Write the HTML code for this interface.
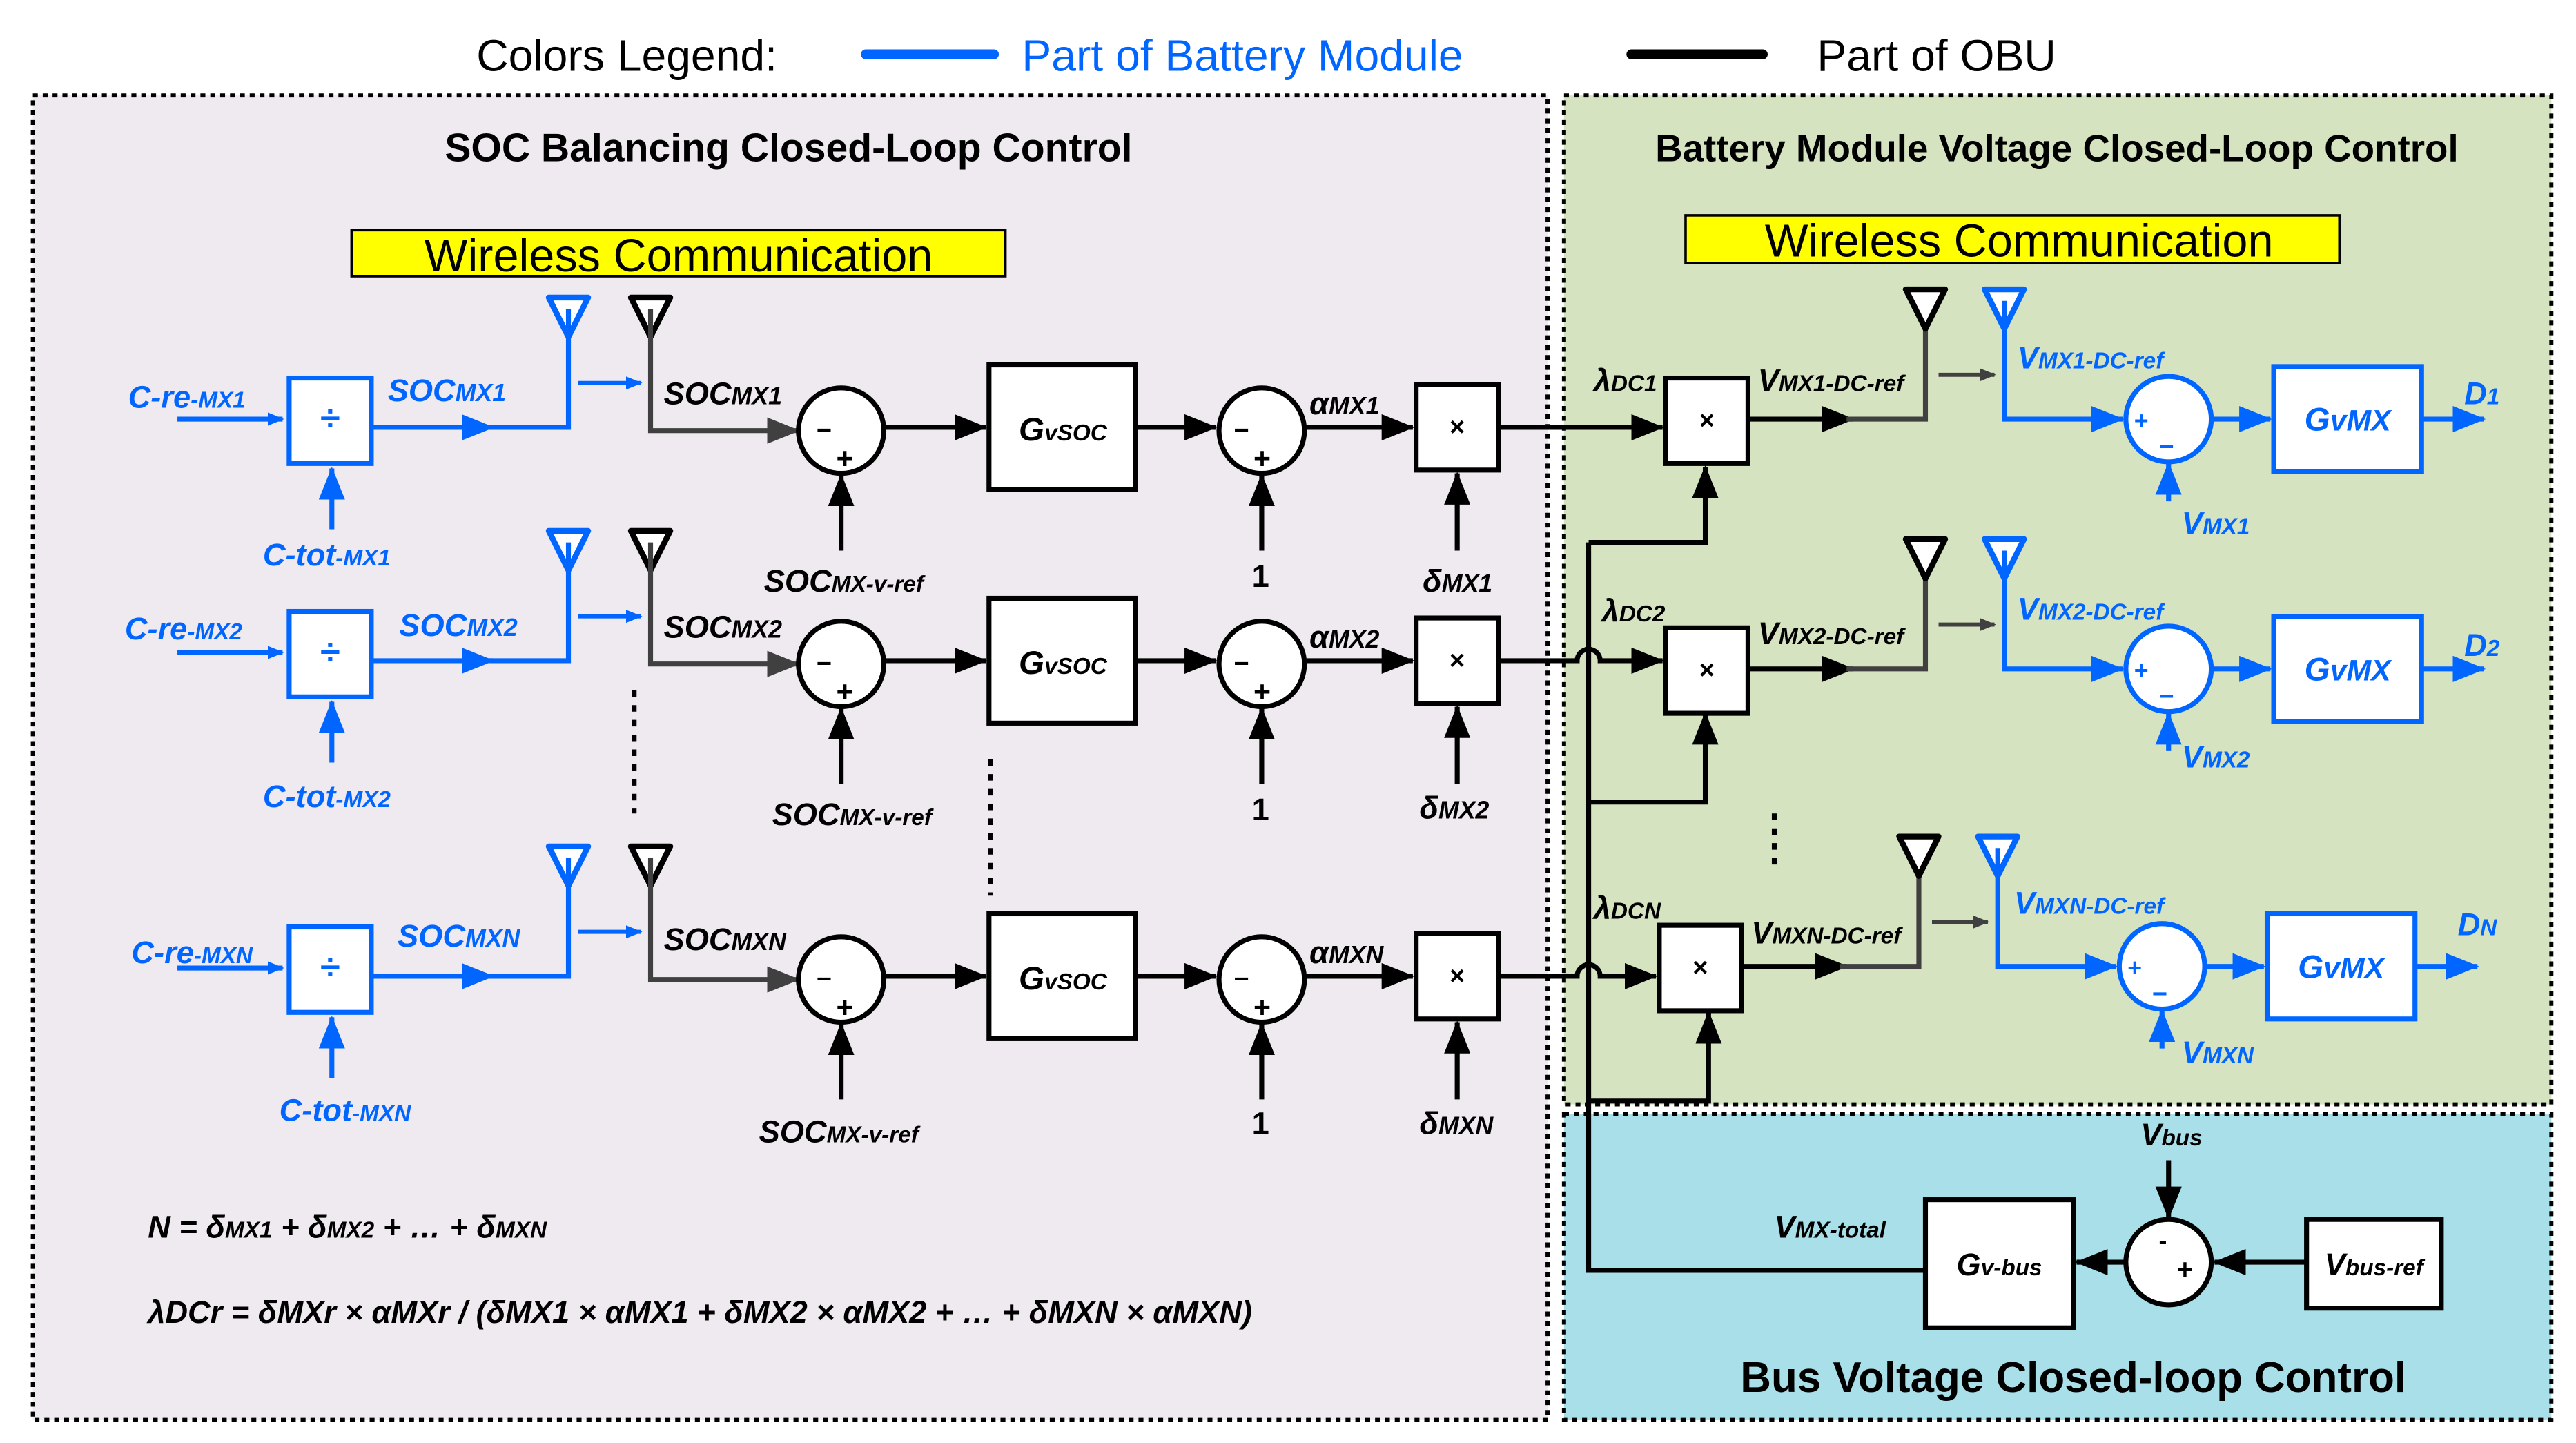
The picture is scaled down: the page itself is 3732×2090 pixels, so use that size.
<!DOCTYPE html>
<html><head><meta charset="utf-8"><style>
html,body{margin:0;padding:0;background:#fff}
svg{display:block}
text{font-family:"Liberation Sans",sans-serif;font-weight:bold}
.i{font-style:italic}
.b{fill:#0066ff}
</style></head><body>
<svg width="3732" height="2090" viewBox="0 0 1568 878" xmlns="http://www.w3.org/2000/svg">
<defs>
<marker id="ab" markerWidth="10" markerHeight="8" refX="9" refY="4" orient="auto" markerUnits="userSpaceOnUse" viewBox="0 0 10 8"><path d="M0,0L10,4L0,8z" fill="#0066ff"/></marker>
<marker id="ag" markerWidth="10" markerHeight="8" refX="9" refY="4" orient="auto" markerUnits="userSpaceOnUse" viewBox="0 0 10 8"><path d="M0,0L10,4L0,8z" fill="#404040"/></marker>
<marker id="abig" markerWidth="20" markerHeight="16" refX="19" refY="8" orient="auto" markerUnits="userSpaceOnUse" viewBox="0 0 20 16"><path d="M0,0L20,8L0,16z" fill="#000"/></marker>
<marker id="abigb" markerWidth="20" markerHeight="16" refX="19" refY="8" orient="auto" markerUnits="userSpaceOnUse" viewBox="0 0 20 16"><path d="M0,0L20,8L0,16z" fill="#0066ff"/></marker>
<marker id="abigg" markerWidth="20" markerHeight="16" refX="19" refY="8" orient="auto" markerUnits="userSpaceOnUse" viewBox="0 0 20 16"><path d="M0,0L20,8L0,16z" fill="#404040"/></marker>
</defs>

<text x="290" y="43" font-size="27" style="font-weight:normal">Colors Legend:</text>
<line x1="527" y1="33" x2="605" y2="33" stroke="#0066ff" stroke-width="6" stroke-linecap="round"/>
<text x="622" y="43" font-size="27" class="b" style="font-weight:normal">Part of Battery Module</text>
<line x1="993" y1="33" x2="1073" y2="33" stroke="#000" stroke-width="6" stroke-linecap="round"/>
<text x="1106" y="43" font-size="27" style="font-weight:normal">Part of OBU</text>

<rect x="20" y="58" width="922" height="806" fill="#efe9f0" stroke="#000" stroke-width="2.5" stroke-dasharray="3,3"/>
<rect x="952" y="58" width="601" height="614" fill="#d6e3c0" stroke="#000" stroke-width="2.5" stroke-dasharray="3,3"/>
<rect x="952" y="678" width="601" height="186" fill="#a8dfe9" stroke="#000" stroke-width="2.5" stroke-dasharray="3,3"/>
<text x="480" y="98" font-size="24" text-anchor="middle">SOC Balancing Closed-Loop Control</text>
<text x="1252" y="98" font-size="23" text-anchor="middle">Battery Module Voltage Closed-Loop Control</text>
<text x="1262" y="847" font-size="26" text-anchor="middle">Bus Voltage Closed-loop Control</text>
<rect x="214" y="140" width="398" height="28" fill="#ffff00" stroke="#000" stroke-width="1.5"/>
<text x="413" y="165" font-size="28" text-anchor="middle" style="font-weight:normal">Wireless Communication</text>
<rect x="1026" y="131" width="398" height="29" fill="#ffff00" stroke="#000" stroke-width="1.5"/>
<text x="1229" y="156" font-size="28" text-anchor="middle" style="font-weight:normal">Wireless Communication</text>

<g id="L1" transform="translate(0,260)">
 <line x1="108" y1="-5" x2="172" y2="-5" stroke="#0066ff" stroke-width="3" marker-end="url(#ab)"/>
 <rect x="176" y="-30" width="50" height="52" fill="#fff" stroke="#0066ff" stroke-width="3"/>
 <text x="201" y="2" font-size="22" text-anchor="middle" class="b">÷</text>
 <line x1="202" y1="62" x2="202" y2="25" stroke="#0066ff" stroke-width="3" marker-end="url(#abigb)"/>
 <line x1="226" y1="0" x2="300" y2="0" stroke="#0066ff" stroke-width="3" marker-end="url(#abigb)"/>
 <polyline points="296,0 346,0 346,-62" fill="none" stroke="#0066ff" stroke-width="3"/>
 <path d="M334,-79L358,-79L346,-55z" fill="#fff" stroke="#0066ff" stroke-width="3.5" stroke-linejoin="round"/>
 <line x1="346" y1="-55" x2="346" y2="-72" stroke="#0066ff" stroke-width="3"/>
 <line x1="352" y1="-27" x2="390" y2="-27" stroke="#0066ff" stroke-width="2.5" marker-end="url(#ab)"/>
 <path d="M384,-79L408,-79L396,-55z" fill="#fff" stroke="#000" stroke-width="3.5" stroke-linejoin="round"/>
 <polyline points="396,-72 396,2 486,2" fill="none" stroke="#404040" stroke-width="3" marker-end="url(#abigg)"/>
 <circle cx="512" cy="2" r="26" fill="#fff" stroke="#000" stroke-width="3"/>
 <text x="497" y="7" font-size="16">−</text><text x="509" y="25" font-size="18">+</text>
 <line x1="512" y1="75" x2="512" y2="29" stroke="#000" stroke-width="3" marker-end="url(#abig)"/>
 <line x1="538" y1="0" x2="600" y2="0" stroke="#000" stroke-width="3" marker-end="url(#abig)"/>
 <rect x="602" y="-38" width="89" height="76" fill="#fff" stroke="#000" stroke-width="3"/>
 <text x="647" y="8" font-size="20" text-anchor="middle" class="i">G<tspan font-size="14">vSOC</tspan></text>
 <line x1="691" y1="0" x2="740" y2="0" stroke="#000" stroke-width="3" marker-end="url(#abig)"/>
 <circle cx="768" cy="2" r="26" fill="#fff" stroke="#000" stroke-width="3"/>
 <text x="751" y="7" font-size="16">−</text><text x="763" y="25" font-size="18">+</text>
 <line x1="768" y1="75" x2="768" y2="29" stroke="#000" stroke-width="3" marker-end="url(#abig)"/>
 <line x1="794" y1="0" x2="860" y2="0" stroke="#000" stroke-width="3" marker-end="url(#abig)"/>
 <rect x="862" y="-26" width="50" height="52" fill="#fff" stroke="#000" stroke-width="3"/>
 <text x="887" y="5" font-size="16" text-anchor="middle">×</text>
 <line x1="887" y1="75" x2="887" y2="28" stroke="#000" stroke-width="3" marker-end="url(#abig)"/>
</g>
<use href="#L1" transform="translate(0,142)"/>
<use href="#L1" transform="translate(0,334)"/>

<g class="i" font-size="19">
<text x="78" y="248" class="b">C-re<tspan font-size="14">-MX1</tspan></text>
<text x="160" y="344" class="b">C-tot<tspan font-size="14">-MX1</tspan></text>
<text x="236" y="244" class="b">SOC<tspan font-size="15">MX1</tspan></text>
<text x="404" y="246">SOC<tspan font-size="15">MX1</tspan></text>
<text x="465" y="360">SOC<tspan font-size="14">MX-v-ref</tspan></text>
<text x="762" y="357" font-style="normal">1</text>
<text x="797" y="252">α<tspan font-size="15">MX1</tspan></text>
<text x="866" y="360">δ<tspan font-size="15">MX1</tspan></text>

<text x="76" y="389" class="b">C-re<tspan font-size="14">-MX2</tspan></text>
<text x="160" y="491" class="b">C-tot<tspan font-size="14">-MX2</tspan></text>
<text x="243" y="387" class="b">SOC<tspan font-size="15">MX2</tspan></text>
<text x="404" y="388">SOC<tspan font-size="15">MX2</tspan></text>
<text x="470" y="502">SOC<tspan font-size="14">MX-v-ref</tspan></text>
<text x="762" y="499" font-style="normal">1</text>
<text x="797" y="394">α<tspan font-size="15">MX2</tspan></text>
<text x="864" y="498">δ<tspan font-size="15">MX2</tspan></text>

<text x="80" y="586" class="b">C-re<tspan font-size="14">-MXN</tspan></text>
<text x="170" y="682" class="b">C-tot<tspan font-size="14">-MXN</tspan></text>
<text x="242" y="576" class="b">SOC<tspan font-size="15">MXN</tspan></text>
<text x="404" y="578">SOC<tspan font-size="15">MXN</tspan></text>
<text x="462" y="695">SOC<tspan font-size="14">MX-v-ref</tspan></text>
<text x="762" y="690" font-style="normal">1</text>
<text x="797" y="586">α<tspan font-size="15">MXN</tspan></text>
<text x="864" y="690">δ<tspan font-size="15">MXN</tspan></text>
</g>

<line x1="386" y1="420" x2="386" y2="495" stroke="#000" stroke-width="3" stroke-dasharray="4,5"/>
<line x1="603" y1="462" x2="603" y2="545" stroke="#000" stroke-width="3" stroke-dasharray="4,5"/>
<line x1="1080" y1="495" x2="1080" y2="530" stroke="#000" stroke-width="3" stroke-dasharray="4,5"/>

<path d="M967,330 V773 H1172" fill="none" stroke="#000" stroke-width="3"/>
<line x1="912" y1="260" x2="1012" y2="260" stroke="#000" stroke-width="3" marker-end="url(#abig)"/>
<path d="M912,402 H960 a7,7 0 0 1 14,0 H1012" fill="none" stroke="#000" stroke-width="3" marker-end="url(#abig)"/>
<path d="M912,594 H960 a7,7 0 0 1 14,0 H1008" fill="none" stroke="#000" stroke-width="3" marker-end="url(#abig)"/>
<polyline points="967,330 1038,330 1038,284" fill="none" stroke="#000" stroke-width="3" marker-end="url(#abig)"/>
<polyline points="967,488 1038,488 1038,434" fill="none" stroke="#000" stroke-width="3" marker-end="url(#abig)"/>
<polyline points="967,670 1040,670 1040,616" fill="none" stroke="#000" stroke-width="3" marker-end="url(#abig)"/>

<g id="R1" transform="translate(0,255)">
 <rect x="1014" y="-25" width="50" height="52" fill="#fff" stroke="#000" stroke-width="3"/>
 <text x="1039" y="6" font-size="16" text-anchor="middle">×</text>
 <line x1="1064" y1="0" x2="1128" y2="0" stroke="#000" stroke-width="3" marker-end="url(#abig)"/>
 <polyline points="1124,0 1172,0 1172,-62" fill="none" stroke="#404040" stroke-width="3"/>
 <path d="M1160,-79L1184,-79L1172,-55z" fill="#fff" stroke="#000" stroke-width="3.5" stroke-linejoin="round"/>
 <line x1="1180" y1="-27" x2="1214" y2="-27" stroke="#404040" stroke-width="2.5" marker-end="url(#ag)"/>
 <path d="M1208,-79L1232,-79L1220,-55z" fill="#fff" stroke="#0066ff" stroke-width="3.5" stroke-linejoin="round"/>
 <polyline points="1220,-72 1220,0 1292,0" fill="none" stroke="#0066ff" stroke-width="3" marker-end="url(#abigb)"/>
 <circle cx="1320" cy="0" r="26" fill="#fff" stroke="#0066ff" stroke-width="3"/>
 <text x="1299" y="6" font-size="15" class="b">+</text><text x="1314" y="22" font-size="16" class="b">−</text>
 <line x1="1320" y1="50" x2="1320" y2="27" stroke="#0066ff" stroke-width="3" marker-end="url(#abigb)"/>
 <line x1="1346" y1="0" x2="1382" y2="0" stroke="#0066ff" stroke-width="3" marker-end="url(#abigb)"/>
 <rect x="1384" y="-32" width="90" height="64" fill="#fff" stroke="#0066ff" stroke-width="3"/>
 <text x="1429" y="7" font-size="20" text-anchor="middle" class="b i">G<tspan font-size="18">vMX</tspan></text>
 <line x1="1474" y1="0" x2="1512" y2="0" stroke="#0066ff" stroke-width="3" marker-end="url(#abigb)"/>
</g>
<use href="#R1" transform="translate(0,152)"/>
<use href="#R1" transform="translate(-4,333)"/>

<g class="i" font-size="19">
<text x="970" y="238">λ<tspan font-size="14">DC1</tspan></text>
<text x="1070" y="238">V<tspan font-size="14">MX1-DC-ref</tspan></text>
<text x="1228" y="224" class="b">V<tspan font-size="14">MX1-DC-ref</tspan></text>
<text x="1328" y="325" class="b">V<tspan font-size="14">MX1</tspan></text>
<text x="1500" y="246" class="b">D<tspan font-size="14">1</tspan></text>

<text x="975" y="378">λ<tspan font-size="14">DC2</tspan></text>
<text x="1070" y="392">V<tspan font-size="14">MX2-DC-ref</tspan></text>
<text x="1228" y="377" class="b">V<tspan font-size="14">MX2-DC-ref</tspan></text>
<text x="1328" y="467" class="b">V<tspan font-size="14">MX2</tspan></text>
<text x="1500" y="399" class="b">D<tspan font-size="14">2</tspan></text>

<text x="970" y="559">λ<tspan font-size="14">DCN</tspan></text>
<text x="1066" y="574">V<tspan font-size="14">MXN-DC-ref</tspan></text>
<text x="1226" y="556" class="b">V<tspan font-size="14">MXN-DC-ref</tspan></text>
<text x="1328" y="647" class="b">V<tspan font-size="14">MXN</tspan></text>
<text x="1496" y="569" class="b">D<tspan font-size="14">N</tspan></text>

<text x="1080" y="753">V<tspan font-size="14">MX-total</tspan></text>
<text x="1303" y="697">V<tspan font-size="14">bus</tspan></text>
</g>

<rect x="1172" y="730" width="90" height="78" fill="#fff" stroke="#000" stroke-width="3"/>
<text x="1217" y="776" font-size="19" text-anchor="middle" class="i">G<tspan font-size="14">v-bus</tspan></text>
<circle cx="1320" cy="768" r="26" fill="#fff" stroke="#000" stroke-width="3"/>
<text x="1314" y="760" font-size="15">-</text><text x="1325" y="778" font-size="17">+</text>
<line x1="1320" y1="706" x2="1320" y2="741" stroke="#000" stroke-width="3" marker-end="url(#abig)"/>
<line x1="1294" y1="768" x2="1264" y2="768" stroke="#000" stroke-width="3" marker-end="url(#abig)"/>
<rect x="1404" y="742" width="82" height="54" fill="#fff" stroke="#000" stroke-width="3"/>
<text x="1445" y="776" font-size="19" text-anchor="middle" class="i">V<tspan font-size="14">bus-ref</tspan></text>
<line x1="1404" y1="768" x2="1348" y2="768" stroke="#000" stroke-width="3" marker-end="url(#abig)"/>

<text x="90" y="753" font-size="19" class="i">N = δ<tspan font-size="14">MX1</tspan> + δ<tspan font-size="14">MX2</tspan> + … + δ<tspan font-size="14">MXN</tspan></text>
<text x="90" y="805" font-size="19" class="i">λDCr = δMXr × αMXr / (δMX1 × αMX1 + δMX2 × αMX2 + … + δMXN × αMXN)</text>
</svg>
</body></html>
